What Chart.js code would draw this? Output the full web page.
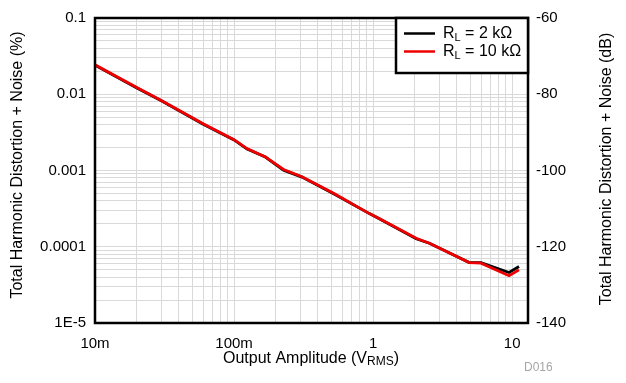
<!DOCTYPE html>
<html>
<head>
<meta charset="utf-8">
<script src="https://cdn.jsdelivr.net/npm/chart.js@4.4.1/dist/chart.umd.min.js"></script>
<style>
  body { margin: 0; background: #fff; }
  #wrap { width: 626px; height: 383px; }
</style>
</head>
<body>
<div id="wrap"><canvas id="thdChart" width="626" height="383"></canvas></div>
<script>
// donnees (V RMS -> THD+N en %)
const amplitude = [0.01, 0.02, 0.03, 0.06, 0.1, 0.124, 0.168, 0.227, 0.308, 0.52, 0.94, 1.09, 2.04, 2.54, 4.92, 5.97, 9.5, 11.2];
const thd2k = [0.0241, 0.0121, 0.0082, 0.00405, 0.00252, 0.00191, 0.0015, 0.00101, 0.00082, 0.000495, 0.000272, 0.000236, 0.000127, 0.000111, 6.2e-5, 6.2e-5, 4.6e-5, 5.5e-5];
const thd10k = [0.0243, 0.0123, 0.00826, 0.0041, 0.00254, 0.00194, 0.00151, 0.00103, 0.00083, 0.000503, 0.000272, 0.000238, 0.000129, 0.000111, 6.2e-5, 6.1e-5, 4.16e-5, 4.98e-5];

const xTickValues = [0.01, 0.1, 1, 10];
const xTickLabels = ['10m', '100m', '1', '10'];
const yTickValues = [0.1, 0.01, 0.001, 0.0001, 0.00001];
const yTickLabels = ['0.1', '0.01', '0.001', '0.0001', '1E-5'];
const dbTickValues = [-140, -120, -100, -80, -60];

const FONT = "'Liberation Sans', Arial, sans-serif";

// toutes les graduations 1..9 par decade (grille)
function decadeTicks(min, max) {
  let res = [];
  for (let e = -6; e <= 2; e++) {
    for (let m = 1; m <= 9; m++) {
      let v = parseFloat((m * Math.pow(10, e)).toPrecision(3));
      if (v >= min * 0.999 && v <= max * 1.001) res.push({ value: v });
    }
  }
  return res;
}

function labelFor(values, labels, v) {
  for (let i = 0; i < values.length; i++) {
    if (Math.abs(values[i] - v) / Math.abs(values[i]) < 1e-6) return labels[i];
  }
  return '';
}

// titres, cadre et legende dessines a la main (indices RMS et L)
const decorPlugin = {
  id: 'decor',
  afterDraw(chart) {
    const ctx = chart.ctx;
    const a = chart.chartArea;
    ctx.save();

    ctx.strokeStyle = '#000';
    ctx.lineWidth = 2.5;
    ctx.strokeRect(a.left, a.top, a.right - a.left, a.bottom - a.top);

    ctx.fillStyle = '#000';
    ctx.font = '16px ' + FONT;
    ctx.textBaseline = 'middle';
    ctx.textAlign = 'center';

    // titre gauche
    ctx.save();
    ctx.translate(18, 165);
    ctx.rotate(-Math.PI / 2);
    ctx.fillText('Total Harmonic Distortion + Noise (%)', 0, 0);
    ctx.restore();

    // titre droit
    ctx.save();
    ctx.translate(607, 169);
    ctx.rotate(-Math.PI / 2);
    ctx.fillText('Total Harmonic Distortion + Noise (dB)', 0, 0);
    ctx.restore();

    // titre x avec indice
    let p1 = 'Output Amplitude (V', sub = 'RMS', p2 = ')';
    ctx.font = '16px ' + FONT;
    let w1 = ctx.measureText(p1).width, w3 = ctx.measureText(p2).width;
    ctx.font = '12px ' + FONT;
    let w2 = ctx.measureText(sub).width;
    let x0 = 311 - (w1 + w2 + w3) / 2, ty = 359;
    ctx.textAlign = 'left';
    ctx.font = '16px ' + FONT;
    ctx.fillText(p1, x0, ty);
    ctx.font = '12px ' + FONT;
    ctx.fillText(sub, x0 + w1, ty + 3);
    ctx.font = '16px ' + FONT;
    ctx.fillText(p2, x0 + w1 + w2, ty);

    // D016
    ctx.fillStyle = '#a6a6a6';
    ctx.font = '12px ' + FONT;
    ctx.fillText('D016', 524, 368);

    // legende
    const lx = 396, ly = a.top, lw = a.right - 396, lh = 55;
    ctx.fillStyle = '#fff';
    ctx.fillRect(lx, ly, lw, lh);
    ctx.strokeStyle = '#000';
    ctx.lineWidth = 2.5;
    ctx.strokeRect(lx, ly, lw, lh);
    const items = [{ c: '#000', t: ' = 2 k\u03A9', y: 33.5 }, { c: '#ee0000', t: ' = 10 k\u03A9', y: 51.5 }];
    items.forEach(it => {
      ctx.strokeStyle = it.c;
      ctx.lineWidth = 2.5;
      ctx.beginPath();
      ctx.moveTo(404, it.y);
      ctx.lineTo(435, it.y);
      ctx.stroke();
      ctx.fillStyle = '#000';
      ctx.font = '16px ' + FONT;
      ctx.fillText('R', 443, it.y);
      let rw = ctx.measureText('R').width;
      ctx.font = '11px ' + FONT;
      ctx.fillText('L', 443 + rw, it.y + 4);
      let lwid = ctx.measureText('L').width;
      ctx.font = '16px ' + FONT;
      ctx.fillText(it.t, 443 + rw + lwid, it.y);
    });
    ctx.restore();
  }
};

const pts2k = amplitude.map((v, i) => ({ x: v, y: thd2k[i] }));
const pts10k = amplitude.map((v, i) => ({ x: v, y: thd10k[i] }));

const config = {
  type: 'line',
  data: {
    datasets: [
      { label: 'RL = 2 kΩ', data: pts2k, borderColor: '#000', borderWidth: 2.8, pointRadius: 0, tension: 0, yAxisID: 'y', order: 2 },
      { label: 'RL = 10 kΩ', data: pts10k, borderColor: '#ee0000', borderWidth: 2.8, pointRadius: 0, tension: 0, yAxisID: 'y', order: 1 }
    ]
  },
  options: {
    responsive: false,
    animation: false,
    layout: { padding: { top: 15, left: 0, right: 0, bottom: 0 } },
    plugins: { legend: { display: false }, tooltip: { enabled: false } },
    scales: {
      x: {
        type: 'logarithmic',
        min: 0.01,
        max: 13,
        afterBuildTicks: s => { s.ticks = decadeTicks(0.01, 13); },
        afterFit: s => { s.height = 60; },
        grid: { color: '#d9d9d9', lineWidth: 1, drawTicks: false },
        border: { display: false },
        ticks: {
          autoSkip: false, maxRotation: 0, padding: 12, color: '#000',
          font: { family: FONT, size: 15 },
          callback: v => labelFor(xTickValues, xTickLabels, v)
        }
      },
      y: {
        type: 'logarithmic',
        position: 'left',
        min: 0.00001,
        max: 0.1,
        afterBuildTicks: s => { s.ticks = decadeTicks(0.00001, 0.1); },
        afterFit: s => { s.width = 95; },
        grid: { color: '#d9d9d9', lineWidth: 1, drawTicks: false },
        border: { display: false },
        ticks: {
          autoSkip: false, padding: 9, color: '#000',
          font: { family: FONT, size: 15 },
          callback: v => labelFor(yTickValues, yTickLabels, v)
        }
      },
      y2: {
        type: 'linear',
        position: 'right',
        min: -140,
        max: -60,
        afterBuildTicks: s => { s.ticks = dbTickValues.map(v => ({ value: v })); },
        afterFit: s => { s.width = 98; },
        grid: { display: false, drawTicks: false },
        border: { display: false },
        ticks: {
          padding: 8, color: '#000',
          font: { family: FONT, size: 15 },
          callback: v => String(v)
        }
      }
    }
  },
  plugins: [decorPlugin]
};

const thdChart = new Chart(document.getElementById('thdChart'), config);
</script>
</body>
</html>
